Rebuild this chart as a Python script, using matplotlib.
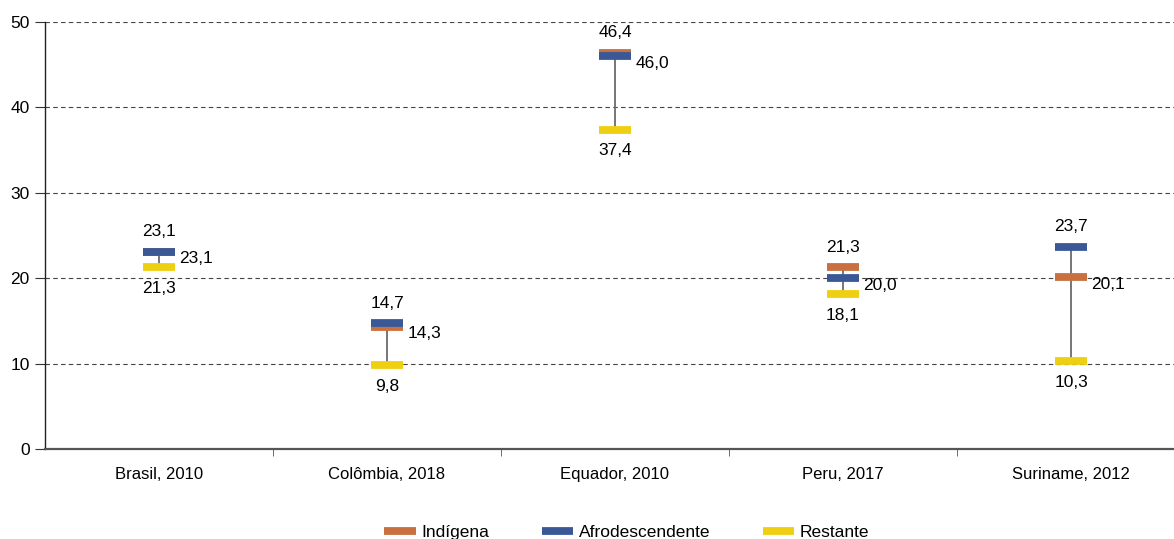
import numpy as np
import matplotlib
matplotlib.use("Agg")
import matplotlib.pyplot as plt
from matplotlib.lines import Line2D

plt.rcParams['font.family'] = ['Liberation Sans', 'DejaVu Sans']

# data
paises = ["Brasil, 2010", "Colômbia, 2018", "Equador, 2010", "Peru, 2017", "Suriname, 2012"]
indigena = [23.1, 14.3, 46.4, 21.3, 20.1]
afro = [23.1, 14.7, 46.0, 20.0, 23.7]
restante = [21.3, 9.8, 37.4, 18.1, 10.3]
series_names = ["Indígena", "Afrodescendente", "Restante"]
colors = ["#C8703F", "#3A5896", "#EFCF12"]
yticks = [0, 10, 20, 30, 40, 50]

fig = plt.figure(figsize=(11.74, 5.39), dpi=100)
ax = fig.add_axes([45 / 1174, 90 / 539, 1 - 45 / 1174, (449 - 22) / 539])

x = np.arange(len(paises))
vals = np.array([indigena, afro, restante])
lo = vals.min(axis=0)
hi = vals.max(axis=0)

# vertical range line
ax.vlines(x, lo, hi, color="#6b6b6b", lw=1.3, zorder=2)

hw = 0.068
for s, c in zip(vals, colors):
    ax.hlines(s, x - hw, x + hw, color=c, lw=5.6, capstyle="butt", zorder=3)

def fmt(v):
    return f"{v:.1f}".replace(".", ",")

fs = 12.5
# labels: top above, middle right, bottom below
for i in range(len(x)):
    order = np.argsort(vals[:, i], kind="stable")
    v_lo, v_mid, v_hi = vals[order[0], i], vals[order[1], i], vals[order[2], i]
    # ties (Brasil) -> afro label on top
    if i == 0:
        v_hi, v_mid = afro[i], indigena[i]
    ax.annotate(fmt(v_hi), (x[i], v_hi), xytext=(0, 9), textcoords="offset points",
                ha="center", va="bottom", fontsize=fs)
    ax.annotate(fmt(v_mid), (x[i] + hw, v_mid), xytext=(3.5, -5), textcoords="offset points",
                ha="left", va="center", fontsize=fs)
    ax.annotate(fmt(v_lo), (x[i], v_lo), xytext=(0, -10), textcoords="offset points",
                ha="center", va="top", fontsize=fs)

ax.set_ylim(0, 50)
ax.set_xlim(-0.5, -0.5 + (1174 - 45) / 228)
ax.set_yticks(yticks)
ax.set_yticklabels([str(t) for t in yticks], fontsize=fs)
ax.yaxis.grid(True, linestyle=(0, (4, 3)), color="#444444", lw=0.8)
ax.set_axisbelow(True)

ax.set_xticks(x)
ax.set_xticklabels(paises, fontsize=12)
ax.tick_params(axis="x", length=0, pad=13)
ax.set_xticks(x[:-1] + 0.5, minor=True)
ax.tick_params(axis="x", which="minor", length=5, color="#555555", direction="out")
ax.tick_params(axis="y", length=7, color="#333333", pad=4)

for sp in ["top", "right"]:
    ax.spines[sp].set_visible(False)
ax.spines["left"].set_color("#222222")
ax.spines["left"].set_linewidth(1.0)
ax.spines["bottom"].set_color("#555555")
ax.spines["bottom"].set_linewidth(1.6)

handles = [Line2D([0], [0], color=c, lw=5.6, solid_capstyle="butt") for c in colors]
fig.legend(handles, series_names, loc="center", bbox_to_anchor=(0.534, 0.012), ncol=3,
           frameon=False, fontsize=fs, handlelength=1.8, handletextpad=0.35,
           columnspacing=3.0)

fig.savefig("out.png", dpi=100)
